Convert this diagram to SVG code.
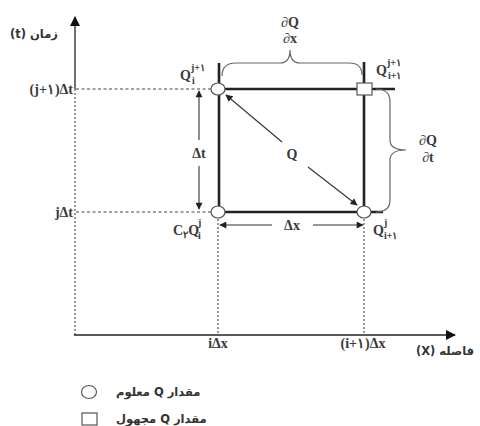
<svg xmlns="http://www.w3.org/2000/svg" width="480" height="426" viewBox="0 0 480 426">
<defs>
<marker id="ax" viewBox="0 0 10 10" refX="9" refY="5" markerWidth="10" markerHeight="10" markerUnits="userSpaceOnUse" orient="auto-start-reverse"><path d="M0,0 L10,5 L0,10 z" fill="#111"/></marker>
<marker id="ar" viewBox="0 0 10 10" refX="9" refY="5" markerWidth="8" markerHeight="7" markerUnits="userSpaceOnUse" orient="auto-start-reverse"><path d="M0,0 L10,5 L0,10 z" fill="#222"/></marker>
<style>
.axis{stroke:#222;stroke-width:1.3;fill:none}
.dash{stroke:#444;stroke-width:1.1;stroke-dasharray:3,2.5;fill:none}
.dot{stroke:#444;stroke-width:1.1;stroke-dasharray:2,2;fill:none}
.grid{stroke:#222;stroke-width:2.6;fill:none}
.arr{stroke:#333;stroke-width:1.1;fill:none}
.brace{stroke:#666;stroke-width:1.2;fill:none}
.node{fill:#fff;stroke:#555;stroke-width:1.2}
.t{font-family:"Liberation Serif",serif;font-weight:bold;fill:#3a3a3a;font-size:14px}
.s{font-size:10px}
.fa{font-family:"DejaVu Sans",sans-serif;font-weight:bold;fill:#333;font-size:11.5px}
</style>
</defs>
<g id="connectors">
<line class="axis" x1="75" y1="89" x2="75" y2="17" marker-end="url(#ax)"/>
<line class="dot" x1="75" y1="89" x2="75" y2="335"/>
<line class="axis" x1="74" y1="335" x2="455" y2="335" marker-end="url(#ax)"/>
<line class="dash" x1="76" y1="89" x2="211" y2="89"/>
<line class="dash" x1="76" y1="212" x2="211" y2="212"/>
<line class="dot" x1="218" y1="219" x2="218" y2="334"/>
<line class="dot" x1="364" y1="219" x2="364" y2="334"/>
<line class="grid" x1="219" y1="63" x2="219" y2="212"/>
<line class="grid" x1="364" y1="62" x2="364" y2="212"/>
<line class="grid" x1="218" y1="89" x2="395" y2="89"/>
<line class="grid" x1="218" y1="212" x2="383" y2="212"/>
<path class="brace" d="M222,76 Q222,63 236,63 L280,63 Q290,63 290,50 Q290,63 300,63 L349,63 Q362,63 362,75"/>
<path class="brace" d="M376,89 Q390,89 390,102 L390,140 Q390,150 406,150 Q390,150 390,160 L390,200 Q390,212 376,212"/>
<line class="arr" x1="199" y1="140" x2="199" y2="91" marker-end="url(#ar)"/>
<line class="arr" x1="199" y1="166" x2="199" y2="209" marker-end="url(#ar)"/>
<line class="arr" x1="272" y1="225" x2="220" y2="225" marker-end="url(#ar)"/>
<line class="arr" x1="313" y1="225" x2="363" y2="225" marker-end="url(#ar)"/>
<line class="arr" x1="282" y1="142" x2="226" y2="95" marker-end="url(#ar)"/>
<line class="arr" x1="308" y1="167" x2="357" y2="205" marker-end="url(#ar)"/>
</g>
<g id="n_i_j1"><ellipse class="node" cx="218" cy="89" rx="7" ry="6"/></g>
<g id="n_i1_j1"><rect class="node" x="357" y="83" width="15" height="12"/></g>
<g id="n_i_j"><ellipse class="node" cx="218" cy="212" rx="7" ry="6"/></g>
<g id="n_i1_j"><ellipse class="node" cx="364" cy="212" rx="7" ry="6"/></g>
<g id="labels">
<text class="fa" x="10" y="38">(t) زمان</text>
<text class="t" x="73" y="94" text-anchor="end">(j+۱)Δt</text>
<text class="t" x="73" y="217" text-anchor="end">jΔt</text>
<text class="t" x="218" y="348" text-anchor="middle">iΔx</text>
<text class="t" x="363" y="348" text-anchor="middle">(i+۱)Δx</text>
<text class="fa" x="474" y="355" text-anchor="end">(X) فاصله</text>
<text class="t" x="290" y="27" text-anchor="middle">∂Q</text>
<text class="t" x="290" y="43" text-anchor="middle">∂x</text>
<text class="t" x="428" y="145" text-anchor="middle">∂Q</text>
<text class="t" x="428" y="162" text-anchor="middle">∂t</text>
<text class="t" x="180" y="80">Q</text><text class="t s" x="191" y="71">j+۱</text><text class="t s" x="192" y="84">i</text>
<text class="t" x="376" y="75">Q</text><text class="t s" x="387" y="66">j+۱</text><text class="t s" x="388" y="79">i+۱</text>
<text class="t" x="173" y="235">C<tspan class="s" dy="3">۲</tspan><tspan dy="-3">Q</tspan></text><text class="t s" x="198" y="226">j</text><text class="t s" x="198" y="239">i</text>
<text class="t" x="373" y="235">Q</text><text class="t s" x="384" y="226">j</text><text class="t s" x="384" y="239">i+۱</text>
<text class="t" x="199" y="158" text-anchor="middle">Δt</text>
<text class="t" x="292" y="159" text-anchor="middle">Q</text>
<text class="t" x="292" y="230" text-anchor="middle">Δx</text>
</g>
<g id="legend">
<ellipse class="node" cx="89" cy="392" rx="7.5" ry="6.5"/>
<text class="fa" x="116" y="396">معلوم Q مقدار</text>
<rect class="node" x="82" y="413" width="15" height="12"/>
<text class="fa" x="116" y="423">مجهول Q مقدار</text>
</g>
</svg>
